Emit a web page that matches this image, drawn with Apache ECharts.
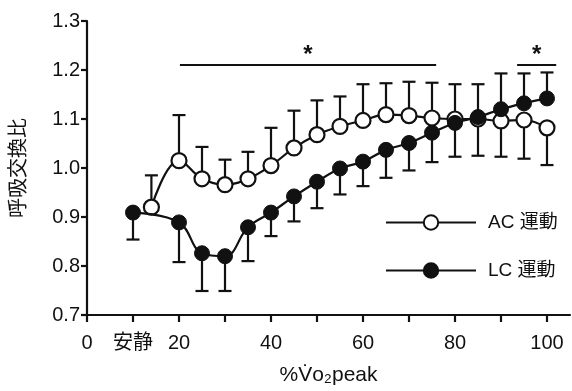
<!DOCTYPE html>
<html>
<head>
<meta charset="utf-8">
<script src="https://cdn.jsdelivr.net/npm/echarts@6/dist/echarts.min.js"></script>
<style>
  html, body { margin: 0; padding: 0; background: #fff; }
  #main { width: 572px; height: 391px; }
</style>
</head>
<body>
<div id="main"></div>
<script>
  var FONT = "'Liberation Sans', 'Noto Sans CJK JP', sans-serif";

  // AC 運動 (白丸)
  var acX   = [14, 20, 25, 30, 35, 40, 45, 50, 55, 60, 65, 70, 75, 80, 85, 90, 95, 100];
  var acY   = [0.920, 1.015, 0.978, 0.966, 0.978, 1.005, 1.041, 1.068, 1.085, 1.097, 1.109, 1.107, 1.102, 1.100, 1.100, 1.096, 1.098, 1.082];
  var acErr = [0.985, 1.108, 1.043, 1.017, 1.033, 1.082, 1.117, 1.138, 1.146, 1.171, 1.173, 1.176, 1.174, 1.171, 1.171, 1.023, 1.019, 1.006];

  // LC 運動 (黒丸)
  var lcX   = [10, 20, 25, 30, 35, 40, 45, 50, 55, 60, 65, 70, 75, 80, 85, 90, 95, 100];
  var lcY   = [0.909, 0.889, 0.826, 0.820, 0.879, 0.909, 0.942, 0.972, 0.999, 1.013, 1.037, 1.051, 1.072, 1.092, 1.104, 1.120, 1.132, 1.142];
  var lcErr = [0.854, 0.808, 0.749, 0.749, 0.810, 0.861, 0.891, 0.918, 0.946, 0.963, 0.980, 0.995, 1.012, 1.023, 1.025, 1.193, 1.193, 1.195];

  // 有意差の横線と *
  var sigFrom = [20.2, 93.5];
  var sigTo   = [75.9, 102];
  var sigLevel = 1.21;
  var starLevel = 1.237;

  var xTicks  = [0, 10, 20, 30, 40, 50, 60, 70, 80, 90, 100];
  var xLabels = [0, 10, 20, 40, 60, 80, 100];

  var myChart = echarts.init(document.getElementById('main'));

  function pairs(xs, ys) {
    return xs.map(function (x, i) { return [x, ys[i]]; });
  }

  // エラーバー（片側）
  function errSeries(xs, ys, ends) {
    return {
      type: 'custom',
      silent: true,
      z: 1,
      encode: { x: 0, y: 1 },
      data: xs.map(function (x, i) { return [x, ys[i], ends[i]]; }),
      renderItem: function (params, api) {
        var p0 = api.coord([api.value(0), api.value(1)]);
        var p1 = api.coord([api.value(0), api.value(2)]);
        var w = 6.5;
        var st = { stroke: '#111', lineWidth: 2.2 };
        return {
          type: 'group',
          children: [
            { type: 'line', shape: { x1: p0[0], y1: p0[1], x2: p1[0], y2: p1[1] }, style: st },
            { type: 'line', shape: { x1: p1[0] - w, y1: p1[1], x2: p1[0] + w, y2: p1[1] }, style: st }
          ]
        };
      }
    };
  }

  var option = {
    animation: false,
    backgroundColor: '#fff',
    textStyle: { fontFamily: FONT },
    grid: { left: 87, right: 2, top: 21, bottom: 75 },
    legend: {
      data: ['AC 運動', 'LC 運動'],
      orient: 'vertical',
      left: 380,
      top: 208,
      itemWidth: 90,
      itemHeight: 18,
      itemGap: 29,
      textStyle: { fontSize: 19, color: '#111', fontFamily: FONT, padding: [0, 0, 0, 7] }
    },
    xAxis: {
      type: 'value',
      min: 0,
      max: 105,
      interval: 10,
      name: '%V\u0307o\u2082peak',
      nameLocation: 'middle',
      nameGap: 50,
      nameTextStyle: { fontSize: 21, color: '#111', fontFamily: FONT },
      splitLine: { show: false },
      axisLine: { lineStyle: { color: '#111', width: 2.2 } },
      axisTick: { length: 7, lineStyle: { color: '#111', width: 2.2 }, customValues: xTicks },
      axisLabel: {
        fontSize: 20, color: '#111', margin: 18, fontFamily: FONT,
        customValues: xLabels,
        formatter: function (v) { return v === 10 ? '安静' : String(v); }
      }
    },
    yAxis: {
      type: 'value',
      min: 0.7,
      max: 1.3,
      interval: 0.1,
      name: '呼吸交換比',
      nameLocation: 'middle',
      nameGap: 58,
      nameTextStyle: { fontSize: 20, color: '#111', fontFamily: FONT },
      splitLine: { show: false },
      axisLine: { show: true, lineStyle: { color: '#111', width: 2.2 } },
      axisTick: { show: true, length: 6, lineStyle: { color: '#111', width: 2.2 } },
      axisLabel: {
        fontSize: 20, color: '#111', margin: 7, fontFamily: FONT,
        formatter: function (v) { return v.toFixed(1); }
      }
    },
    series: [
      errSeries(acX, acY, acErr),
      errSeries(lcX, lcY, lcErr),
      {
        name: 'AC 運動',
        type: 'line',
        z: 3,
        smooth: 0.4,
        data: pairs(acX, acY),
        symbol: 'circle',
        symbolSize: 15,
        lineStyle: { color: '#111', width: 2.2 },
        itemStyle: { color: '#fff', borderColor: '#111', borderWidth: 2.2 }
      },
      {
        name: 'LC 運動',
        type: 'line',
        z: 4,
        smooth: 0.4,
        data: pairs(lcX, lcY),
        symbol: 'circle',
        symbolSize: 15,
        lineStyle: { color: '#111', width: 2.2 },
        itemStyle: { color: '#111', borderColor: '#111', borderWidth: 1 }
      },
      {
        type: 'custom',
        silent: true,
        z: 2,
        encode: { x: [0, 1], y: 2 },
        data: sigFrom.map(function (x, i) { return [x, sigTo[i], sigLevel]; }),
        renderItem: function (params, api) {
          var a = api.coord([api.value(0), api.value(2)]);
          var b = api.coord([api.value(1), api.value(2)]);
          var s = api.coord([(api.value(0) + api.value(1)) / 2, starLevel]);
          return {
            type: 'group',
            children: [
              { type: 'line', shape: { x1: a[0], y1: a[1], x2: b[0], y2: b[1] }, style: { stroke: '#111', lineWidth: 2 } },
              { type: 'text', x: s[0], y: s[1] + 4, style: { text: '*', fontSize: 24, fontWeight: 'bold', fill: '#111', align: 'center', verticalAlign: 'middle', fontFamily: FONT } }
            ]
          };
        }
      }
    ]
  };

  myChart.setOption(option);
</script>
</body>
</html>
